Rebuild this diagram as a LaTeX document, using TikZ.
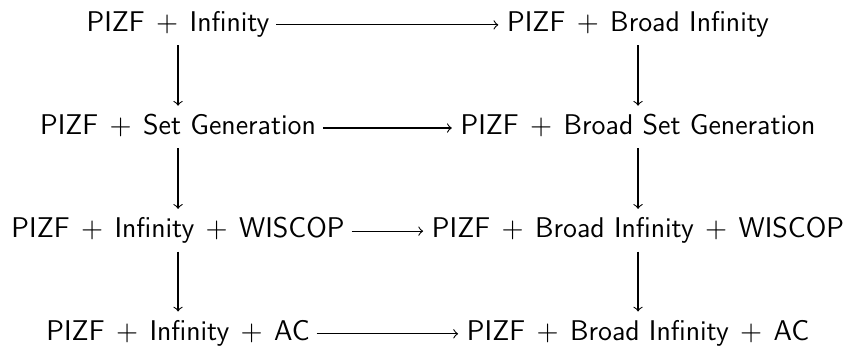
\documentclass[tikz,border=0pt]{standalone}
\usetikzlibrary{calc}
\tikzset{
  obj/.style={anchor=base, inner sep=2pt, text height=7.8pt, text depth=2.6pt,
    font=\fontsize{11}{13}\selectfont\sffamily},
  arr/.style={-to, line width=0.42pt, shorten >=1.2pt, shorten <=0.5pt}
}
\newcommand{\pl}{\hspace{4.4pt}{\rmfamily$+$}\hspace{4.4pt}}
\begin{document}
\begin{tikzpicture}[x=1pt,y=1pt]
\useasboundingbox (0,0) rectangle (328,-133.9);
\node[obj] (a1) at (68.7,-12.2) {PIZF\pl Infinity};
\node[obj] (b1) at (246.2,-12.2) {PIZF\pl Broad Infinity};
\node[obj] (a2) at (68.7,-52.0) {PIZF\pl Set Generation};
\node[obj] (b2) at (246.2,-52.0) {PIZF\pl Broad Set Generation};
\node[obj] (a3) at (68.7,-91.8) {PIZF\pl Infinity\pl WISCOP};
\node[obj] (b3) at (246.2,-91.8) {PIZF\pl Broad Infinity\pl WISCOP};
\node[obj] (a4) at (68.7,-131.4) {PIZF\pl Infinity\pl AC};
\node[obj] (b4) at (246.2,-131.4) {PIZF\pl Broad Infinity\pl AC};
\draw[arr] (a1) -- (b1);
\draw[arr] (a2) -- (b2);
\draw[arr] (a3) -- (b3);
\draw[arr] (a4) -- (b4);
\draw[arr] (a1) -- (a2);
\draw[arr] (a2) -- (a3);
\draw[arr] (a3) -- (a4);
\draw[arr] (b1) -- (b2);
\draw[arr] (b2) -- (b3);
\draw[arr] (b3) -- (b4);
\end{tikzpicture}
\end{document}
